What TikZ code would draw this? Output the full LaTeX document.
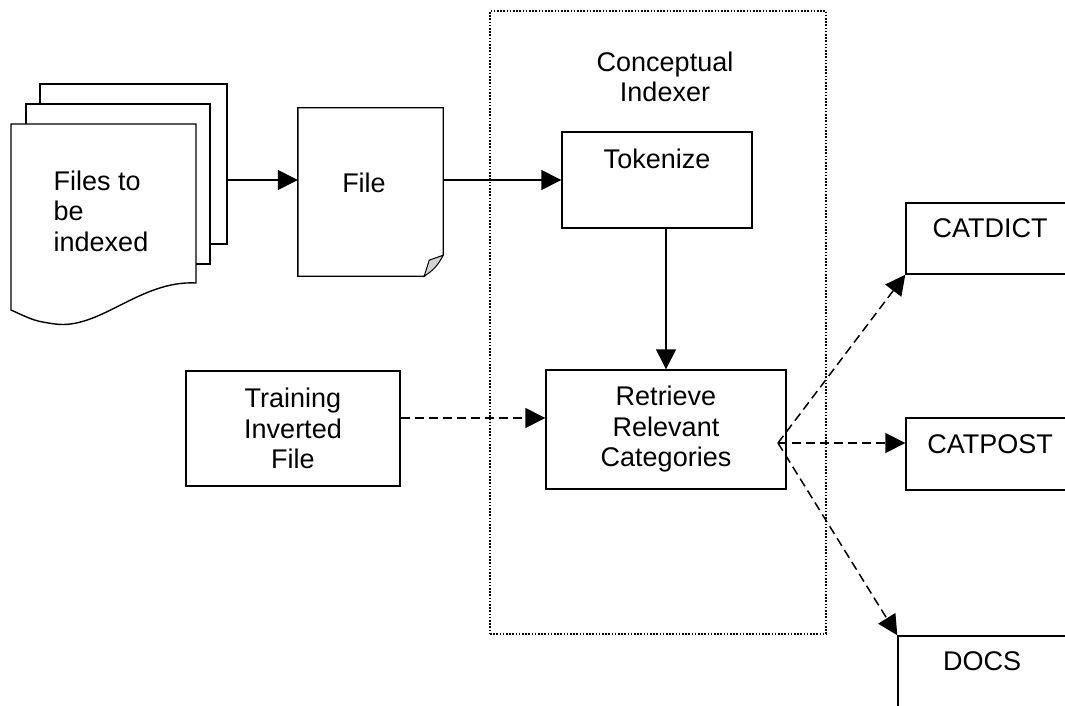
\documentclass[tikz,border=0pt]{standalone}
\usepackage{fontspec}
\setmainfont{Liberation Sans}
\usetikzlibrary{arrows.meta,positioning}

\begin{document}
\begin{tikzpicture}[x=1pt,y=-1pt,
  every node/.style={font=\fontsize{27}{30.5}\selectfont},
  box/.style={draw,line width=1.4pt,fill=white,inner sep=0pt,align=center},
  txt/.style={inner sep=0pt,align=center},
  arr/.style={line width=1.4pt,-{Triangle[length=20pt,width=20pt]}},
  darr/.style={arr,line width=1.5pt,dash pattern=on 9pt off 5pt}]
  \useasboundingbox (0,0) rectangle (1065,706);
  % the indexer
  \node[draw,line width=1.5pt,dash pattern=on 1.6pt off 1.6pt,inner sep=0pt,
    minimum width=336pt,minimum height=623pt] (ci) at (658,322.5) {};
  \node[txt] (cilbl) at (665,77) {Conceptual\\Indexer};
  % stack of files
  \node[box,minimum width=187pt,minimum height=160pt] (pg3) at (133.5,164) {};
  \node[box,minimum width=184pt,minimum height=160pt] (pg2) at (118,184) {};
  \draw[line width=1.4pt,fill=white] (11,124) -- (196,124) -- (196,283)
    .. controls (140,280) and (100,330) .. (55,324)
    .. controls (35,321) .. (11,310) -- cycle;
  \node[txt,align=left] (files) at (101,211) {Files to\\be\\indexed};
  % single file
  \node[inner sep=0pt,minimum width=145pt,minimum height=168pt] (file) at (370.5,192) {};
  \draw[line width=1.4pt,fill=white] (file.north west) -- (file.north east)
    -- ([yshift=21pt]file.south east) -- ([xshift=-19pt]file.south east)
    -- (file.south west) -- cycle;
  \draw[line width=1pt,fill=gray!35] ([yshift=21pt]file.south east)
    -- ([xshift=-14pt,yshift=16pt]file.south east) -- ([xshift=-19pt]file.south east)
    to[bend right=15] ([yshift=21pt]file.south east);
  \node[txt] (filelbl) at (364,183) {File};
  % steps
  \node[box,minimum width=190pt,minimum height=96pt] (tok) at (657,180) {};
  \node[txt,below=17pt of tok.north] (toklbl) {Tokenize};
  \node[box,minimum width=240pt,minimum height=119pt] (ret) at (666,429.5)
    {Retrieve\\Relevant\\Categories};
  \node[box,minimum width=214pt,minimum height=115pt] (train) at (293,428.5)
    {Training\\Inverted\\File};
  % outputs
  \node[box,minimum width=168pt,minimum height=71pt] (cd) at (990,238.5) {};
  \node[txt,below=16pt of cd.north] (cdlbl) {CATDICT};
  \node[box,minimum width=168pt,minimum height=72pt] (cp) at (990,454) {};
  \node[txt,below=17pt of cp.north] (cplbl) {CATPOST};
  \node[box,minimum width=168pt,minimum height=100pt] (docs) at (982,686) {};
  \node[txt,below=16pt of docs.north] (docslbl) {DOCS};
  % connectors
  \draw[arr] ([yshift=-16pt]pg3.east) -- ([yshift=-16pt]pg3.east -| file.west);
  \draw[arr] (tok.west -| file.east) -- (tok.west);
  \draw[arr] (tok.south -| ret.north) -- (ret.north);
  \draw[darr] ([yshift=10.5pt]train.east) -- ([yshift=10.5pt]train.east -| ret.west);
  \coordinate (fan) at (778,443);
  \draw[darr] (fan) -- (cd.south west);
  \draw[darr] (fan) -- (fan -| cp.west);
  \draw[darr] (fan) -- (docs.north west);
\end{tikzpicture}
\end{document}
